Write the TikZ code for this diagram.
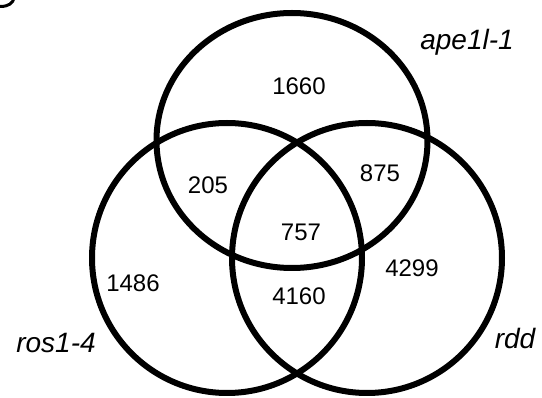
\documentclass[tikz,border=0pt]{standalone}
\usepackage{fontspec}
\setmainfont{Liberation Sans}
\begin{document}
\begin{tikzpicture}[x=1pt,y=-1pt,
  ring/.style={draw=black,line width=6pt},
  num/.style={font=\fontsize{24}{28}\selectfont,inner sep=0pt},
  setlabel/.style={font=\fontsize{28}{32}\selectfont\itshape,inner sep=0pt}]
\useasboundingbox (0,0) rectangle (542,398);
\draw[ring] (292,140.5) ellipse[x radius=135.5,y radius=127.5];
\draw[ring] (227,258) circle[radius=135];
\draw[ring] (367,258) circle[radius=135];
\draw[line width=3pt] (0,6.5) .. controls (9,6.5) and (13,3) .. (14,-2);
\node[num] (a) at (299,86) {1660};
\node[num] (ab) at (208,185) {205};
\node[num] (ac) at (380,173) {875};
\node[num] (abc) at (301,232) {757};
\node[num] (b) at (133,283) {1486};
\node[num] (bc) at (299,296) {4160};
\node[num] (c) at (412,268) {4299};
\node[setlabel] (la) at (467,42) {ape1l-1};
\node[setlabel] (lb) at (56,343) {ros1-4};
\node[setlabel] (lc) at (515,339) {rdd};
\end{tikzpicture}
\end{document}
